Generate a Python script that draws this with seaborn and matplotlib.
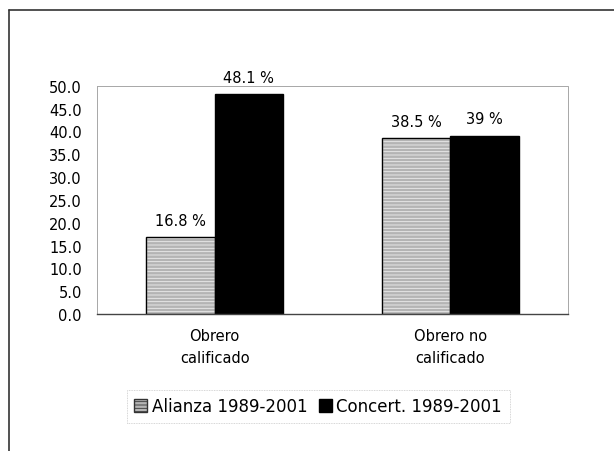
import matplotlib
matplotlib.use("Agg")
import matplotlib.pyplot as plt
from matplotlib.lines import Line2D
from matplotlib.patches import Rectangle
import pandas as pd
import seaborn as sns

categories = ["Obrero\ncalificado", "Obrero no\ncalificado"]
series = ["Alianza 1989-2001", "Concert. 1989-2001"]
alianza = [16.8, 38.5]
concert = [48.1, 39.0]
alianza_labels = ["16.8 %", "38.5 %"]
concert_labels = ["48.1 %", "39 %"]
yticks = [0, 5, 10, 15, 20, 25, 30, 35, 40, 45, 50]

df = pd.DataFrame({
    "cat": categories * 2,
    "serie": [series[0]] * 2 + [series[1]] * 2,
    "valor": alianza + concert,
})

sns.set_style("white")
plt.rcParams["font.family"] = ["DejaVu Sans"]
plt.rcParams["text.color"] = "black"
plt.rcParams["xtick.color"] = "black"
plt.rcParams["ytick.color"] = "black"
plt.rcParams["hatch.linewidth"] = 0.6

fs = 10.5
fig = plt.figure(figsize=(6.14, 4.52), dpi=100)
ax = fig.add_axes([0.158, 0.303, 0.767, 0.505])

sns.barplot(data=df, x="cat", y="valor", hue="serie", ax=ax,
            palette=["#b4b4b4", "#000000"], width=0.58, gap=0,
            edgecolor="black", linewidth=1.0, saturation=1)

# light stripes on the grey bars, then a black outline on top
for bar in ax.containers[0]:
    bar.set_hatch("-----")
    bar.set_edgecolor("#eeeeee")
    ax.add_patch(Rectangle(bar.get_xy(), bar.get_width(), bar.get_height(),
                           fill=False, edgecolor="black", lw=1.0, zorder=bar.get_zorder() + 0.1))

ax.bar_label(ax.containers[0], labels=alianza_labels, padding=7, fontsize=fs)
ax.bar_label(ax.containers[1], labels=concert_labels, padding=7, fontsize=fs)

ax.set_ylim(0, 50)
ax.set_yticks(yticks)
ax.set_yticklabels([f"{v:.1f}" for v in yticks], fontsize=fs)
ax.set_xticks(range(len(categories)))
ax.set_xticklabels(categories, fontsize=fs, linespacing=1.6)
ax.tick_params(axis="x", length=0, pad=10)
ax.tick_params(axis="y", length=0, pad=11)
ax.set_xlabel("")
ax.set_ylabel("")

for side in ["top", "right", "left"]:
    ax.spines[side].set_color("#999999")
    ax.spines[side].set_linewidth(0.6)
    ax.spines[side].set_linestyle((0, (1, 1)))
ax.spines["bottom"].set_color("#444444")
ax.spines["bottom"].set_linewidth(1.0)

handles, labels = ax.get_legend_handles_labels()
ax.get_legend().remove()
handles[0].set_hatch("-----")
handles[0].set_edgecolor("#333333")
leg = fig.legend(handles, labels, loc="center", bbox_to_anchor=(0.518, 0.099),
                 ncol=2, fontsize=12, frameon=True, fancybox=False,
                 handlelength=0.8, handleheight=0.8, handletextpad=0.25,
                 columnspacing=0.7, borderpad=0.45)
leg.get_frame().set_edgecolor("#bbbbbb")
leg.get_frame().set_linewidth(0.6)
leg.get_frame().set_linestyle((0, (1, 1)))

# outer frame (top and left edge)
fig.add_artist(Line2D([9 / 614, 9 / 614], [0, 1 - 11 / 452], color="#333333", lw=1.2,
                      transform=fig.transFigure))
fig.add_artist(Line2D([9 / 614, 1], [1 - 11 / 452, 1 - 11 / 452], color="#333333", lw=1.2,
                      transform=fig.transFigure))

fig.savefig("out.png", dpi=100)
